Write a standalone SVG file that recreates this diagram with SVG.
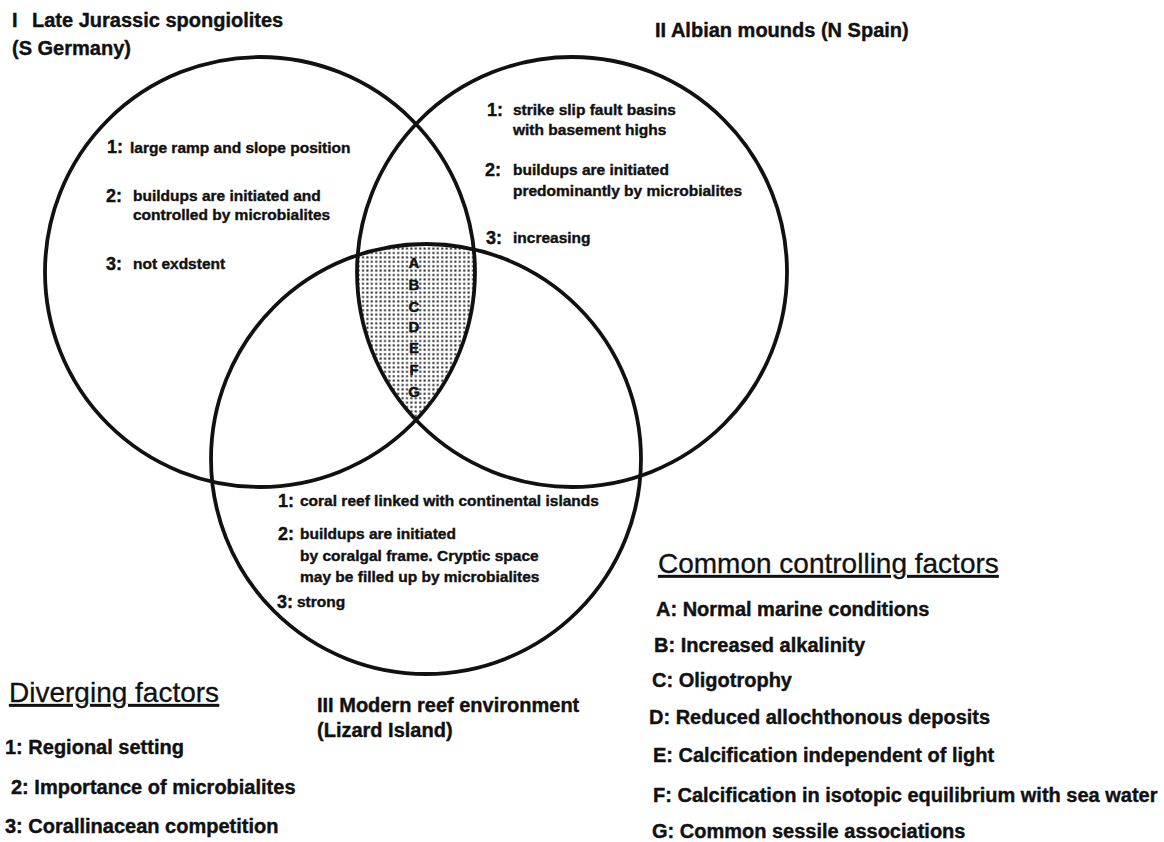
<svg xmlns="http://www.w3.org/2000/svg" width="1164" height="842" viewBox="0 0 1164 842">
<style>
.c{fill:none;stroke:#111;stroke-width:3.8}
.t{font-family:"Liberation Sans",Arial,Helvetica,sans-serif;fill:#111;stroke:#111;stroke-width:0.4}
.lb{font-size:20px;font-weight:bold}
.hd{font-size:28px;text-decoration:underline;stroke-width:0.3}
.sm{font-size:15.5px;font-weight:bold}
.nm{font-size:18px;font-weight:bold}
.lt{font-size:15px;font-weight:bold;text-anchor:middle}
</style>
<defs>
<pattern id="dots" width="4.4" height="4.4" patternUnits="userSpaceOnUse">
<rect width="4.4" height="4.4" fill="#fff"/>
<rect x="1.2" y="1.2" width="2" height="2" fill="#222"/>
</pattern>
<clipPath id="clipII"><circle cx="572" cy="272" r="215"/></clipPath>
<clipPath id="clipIII"><circle cx="426" cy="459" r="215"/></clipPath>
</defs>
<rect width="1164" height="842" fill="#fff"/>

<g id="common-area">
<g clip-path="url(#clipIII)"><g clip-path="url(#clipII)">
<circle cx="260" cy="272" r="215" fill="url(#dots)"/>
</g></g>
</g>

<g id="circle-I">
<circle class="c" cx="260" cy="272" r="215"/>
<text class="t lb" x="12" y="27">I</text>
<text class="t lb" x="32" y="27">Late Jurassic spongiolites</text>
<text class="t lb" x="12" y="55">(S Germany)</text>
<text class="t nm" x="107" y="153">1:</text>
<text class="t sm" x="130" y="153">large ramp and slope position</text>
<text class="t nm" x="106" y="202">2:</text>
<text class="t sm" x="133" y="201">buildups are initiated and</text>
<text class="t sm" x="133" y="220">controlled by microbialites</text>
<text class="t nm" x="106" y="270">3:</text>
<text class="t sm" x="133" y="269">not exdstent</text>
</g>

<g id="circle-II">
<circle class="c" cx="572" cy="272" r="215"/>
<text class="t lb" x="655" y="37">II Albian mounds (N Spain)</text>
<text class="t nm" x="487" y="116">1:</text>
<text class="t sm" x="513" y="115">strike slip fault basins</text>
<text class="t sm" x="513" y="135">with basement highs</text>
<text class="t nm" x="485" y="176">2:</text>
<text class="t sm" x="513" y="175">buildups are initiated</text>
<text class="t sm" x="513" y="196">predominantly by microbialites</text>
<text class="t nm" x="486" y="244">3:</text>
<text class="t sm" x="513" y="243">increasing</text>
</g>

<g id="circle-III">
<circle class="c" cx="426" cy="459" r="215"/>
<text class="t nm" x="278" y="507">1:</text>
<text class="t sm" x="300" y="506">coral reef linked with continental islands</text>
<text class="t nm" x="278" y="540">2:</text>
<text class="t sm" x="300" y="539">buildups are initiated</text>
<text class="t sm" x="300" y="561">by coralgal frame. Cryptic space</text>
<text class="t sm" x="300" y="582">may be filled up by microbialites</text>
<text class="t nm" x="277" y="608">3:</text>
<text class="t sm" x="297" y="607">strong</text>
<text class="t lb" x="317" y="712">III Modern reef environment</text>
<text class="t lb" x="317" y="737">(Lizard Island)</text>
</g>

<g id="common-letters">
<text class="t lt" x="414" y="268">A</text>
<text class="t lt" x="414" y="290">B</text>
<text class="t lt" x="414" y="312">C</text>
<text class="t lt" x="414" y="332">D</text>
<text class="t lt" x="414" y="353">E</text>
<text class="t lt" x="414" y="375">F</text>
<text class="t lt" x="414" y="397">G</text>
</g>

<g id="legend-diverging">
<text class="t hd" x="9" y="702">Diverging factors</text>
<text class="t lb" x="5" y="754">1: Regional setting</text>
<text class="t lb" x="11" y="794">2: Importance of microbialites</text>
<text class="t lb" x="5" y="833">3: Corallinacean competition</text>
</g>

<g id="legend-common">
<text class="t hd" x="658" y="573">Common controlling factors</text>
<text class="t lb" x="656" y="616">A: Normal marine conditions</text>
<text class="t lb" x="654" y="652">B: Increased alkalinity</text>
<text class="t lb" x="652" y="687">C: Oligotrophy</text>
<text class="t lb" x="649" y="724">D: Reduced allochthonous deposits</text>
<text class="t lb" x="653" y="762">E: Calcification independent of light</text>
<text class="t lb" x="653" y="802">F: Calcification in isotopic equilibrium with sea water</text>
<text class="t lb" x="652" y="838">G: Common sessile associations</text>
</g>
</svg>
